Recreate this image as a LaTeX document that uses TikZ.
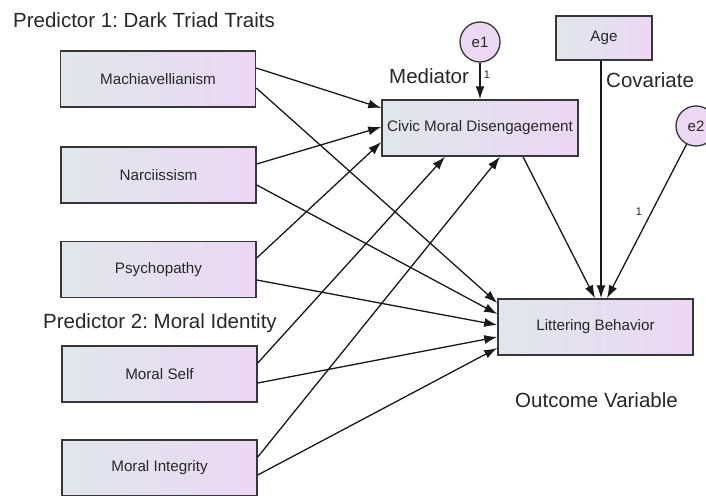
\documentclass[tikz,border=0pt]{standalone}
\usepackage{fontspec}
\setmainfont{Liberation Sans}
\usetikzlibrary{arrows.meta,calc}
\frenchspacing
\definecolor{boxleft}{RGB}{223,231,236}
\definecolor{boxright}{RGB}{237,214,243}
\definecolor{circfill}{RGB}{236,216,242}
\definecolor{edge}{RGB}{55,55,55}
\definecolor{txt}{RGB}{40,40,40}
\tikzset{
  varbox/.style={draw=edge, line width=1.5pt, left color=boxleft, right color=boxright,
    minimum width=195pt, minimum height=56pt, inner sep=0pt, text=txt,
    font=\fontsize{15.2}{18}\selectfont},
  errc/.style={draw=edge, line width=1.3pt, fill=circfill, circle, minimum size=40pt,
    inner sep=0pt, text=txt, font=\fontsize{15}{18}\selectfont},
  head/.style={text=txt, inner sep=0pt, font=\fontsize{20.5}{24}\selectfont},
  small/.style={text=txt, inner sep=0pt, font=\fontsize{11}{13}\selectfont},
  path/.style={draw=black!90, line width=1.3pt, -{Latex[length=13pt,width=9pt]}}
}
\begin{document}
\begin{tikzpicture}[x=1pt,y=-1pt]
\useasboundingbox[fill=white] (0,0) rectangle (706,495);
% nodes
\node[varbox] (mach) at (158,79) {Machiavellianism};
\node[varbox] (narc) at (158.5,175) {Narciissism};
\node[varbox] (psych) at (158.5,269.5) {Psychopathy};
\node[varbox] (mself) at (159.5,374) {Moral Self};
\node[varbox] (minteg) at (159.5,468) {Moral Integrity};
\node[varbox, minimum width=196pt] (cmd) at (480,128) {Civic Moral Disengagement};
\node[varbox, minimum width=96pt, minimum height=44pt] (age) at (604,38) {Age};
\node[varbox] (lb) at (595.5,327) {Littering Behavior};
\node[errc] (e1) at (480,42) {e1};
\node[errc] (e2) at (696,126) {e2};
% labels
\node[head, anchor=west] (h1) at (13,20) {Predictor 1: Dark Triad Traits};
\node[head, anchor=west] (h2) at (43,323) {Predictor 2: Moral Identity};
\node[head, anchor=west] (hm) at (389,76) {Mediator};
\node[head, anchor=west] (hc) at (606,80) {Covariate};
\node[head] (ho) at (596.5,400) {Outcome Variable};
\node[small] (w1) at (487,75) {1};
\node[small] (w2) at (639,212) {1};
% paths to mediator
\draw[path] ([yshift=11pt]mach.east) -- ([yshift=20pt]cmd.west);
\draw[path] ([yshift=11pt]narc.east) -- ([yshift=1pt]cmd.west);
\draw[path] ([yshift=11.5pt]psych.east) -- ([yshift=-14pt]cmd.west);
\draw[path] ([yshift=11pt]mself.east) -- ([xshift=-35pt]cmd.south);
\draw[path] ([yshift=11pt]minteg.east) -- ([xshift=20pt]cmd.south);
% paths to outcome
\draw[path] ([yshift=-9pt]mach.east) -- ([yshift=24pt]lb.west);
\draw[path] ([yshift=-10pt]narc.east) -- ([yshift=13pt]lb.west);
\draw[path] ([yshift=-10.5pt]psych.east) -- ([yshift=2pt]lb.west);
\draw[path] ([yshift=-9pt]mself.east) -- ([yshift=-10pt]lb.west);
\draw[path] ([yshift=-7pt]minteg.east) -- ([yshift=-21pt]lb.west);
\draw[path] ([xshift=43pt]cmd.south) -- ([xshift=-0.5pt]lb.north);
\draw[path] ([xshift=-3pt]age.south) -- ([xshift=5.5pt]lb.north);
\draw[path] (e2) -- ([xshift=11.5pt]lb.north);
\draw[path] (e1) -- (cmd);
\end{tikzpicture}
\end{document}
